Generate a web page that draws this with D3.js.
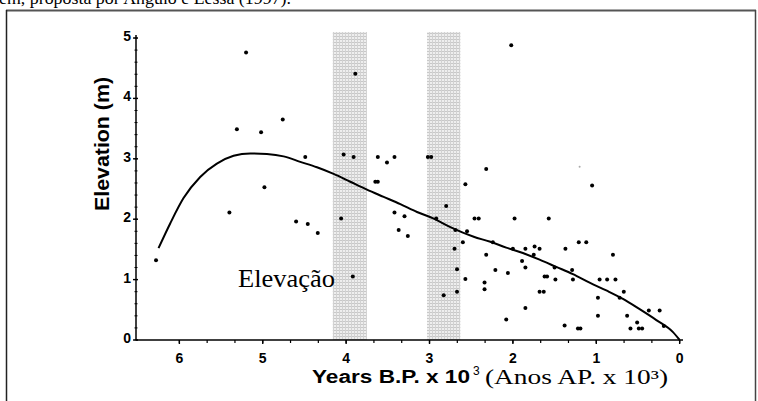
<!DOCTYPE html>
<html>
<head>
<meta charset="utf-8">
<script src="https://cdn.jsdelivr.net/npm/d3@7"></script>
<style>
  html, body { margin: 0; padding: 0; background: #fff; }
  svg { display: block; }
</style>
</head>
<body>
<svg id="chart" width="758" height="401"></svg>
<script>
// ---- data ----
const xTicks = [6, 5, 4, 3, 2, 1, 0];
const yTicks = [0, 1, 2, 3, 4, 5];
const bandStart = [4.16, 3.03];
const bandEnd = [3.75, 2.63];

const years = [5.20, 5.31, 5.02, 4.76, 4.49, 4.98, 5.40, 4.60, 4.46, 4.34, 6.28,
  4.03, 3.91, 3.89, 4.06, 3.92, 3.62, 3.42, 3.51, 3.65, 3.62, 3.42, 3.30, 3.37, 3.26,
  3.02, 2.98, 2.92, 2.80, 2.83, 2.02, 2.57, 2.32, 2.46, 2.41, 1.98, 1.57, 1.05,
  2.69, 2.55, 2.60, 2.70, 2.67, 2.57, 2.67, 2.24, 2.32, 2.21, 2.34, 2.34, 2.08, 2.06,
  2.00, 1.89, 1.85, 1.85, 1.85, 1.74, 1.68, 1.75, 1.68, 1.63, 1.62, 1.59, 1.49, 1.50,
  1.37, 1.38, 1.22, 1.19, 1.21, 1.12, 1.29, 1.28, 0.96, 0.87, 0.77, 0.80, 0.98, 0.98,
  0.67, 0.72, 0.63, 0.59, 0.51, 0.49, 0.45, 0.37, 0.24, 0.19];
const elevation = [4.76, 3.49, 3.44, 3.65, 3.03, 2.53, 2.11, 1.96, 1.92, 1.77, 1.32,
  3.07, 3.03, 4.41, 2.01, 1.05, 3.03, 3.03, 2.94, 2.62, 2.62, 2.11, 2.05, 1.82, 1.72,
  3.03, 3.03, 2.01, 2.22, 0.74, 4.88, 2.58, 2.83, 2.01, 2.01, 2.01, 2.01, 2.56,
  1.82, 1.80, 1.62, 1.51, 1.17, 1.01, 0.80, 1.62, 1.41, 1.16, 0.95, 0.84, 0.34, 1.11,
  1.51, 1.31, 1.51, 1.20, 0.53, 1.55, 1.51, 1.41, 0.80, 0.80, 1.05, 1.05, 1.00, 1.20,
  1.51, 0.24, 0.19, 0.19, 1.62, 1.62, 1.16, 1.00, 1.00, 1.00, 1.00, 1.41, 0.70, 0.40,
  0.80, 0.70, 0.40, 0.19, 0.29, 0.19, 0.19, 0.49, 0.49, 0.23];
const faintYears = [1.20];
const faintElevation = [2.87];

const curveYears = [6.25, 6.11, 5.95, 5.75, 5.55, 5.35, 5.15, 4.95, 4.75, 4.55, 4.35,
  4.15, 3.95, 3.75, 3.55, 3.35, 3.15, 2.95, 2.75, 2.47, 2.28, 2.08, 1.88, 1.68, 1.48,
  1.28, 1.08, 0.88, 0.68, 0.48, 0.28, 0.08, 0];
const curveElevation = [1.52, 1.93, 2.35, 2.70, 2.92, 3.05, 3.09, 3.08, 3.04, 2.95, 2.86,
  2.75, 2.62, 2.49, 2.37, 2.25, 2.12, 2.01, 1.87, 1.71, 1.63, 1.53, 1.44, 1.33, 1.21,
  1.09, 0.95, 0.82, 0.68, 0.51, 0.33, 0.13, 0];

const topText = "em, proposta por Angulo e Lessa (1997).";
const yTitle = "Elevation (m)";
const xTitleMain = "Years B.P. x 10";
const xTitleSup = "3";
const xTitlePt = "(Anos AP. x 10³)";
const annotation = "Elevação";

// ---- drawing ----
const svg = d3.select("#chart");
const x = d3.scaleLinear().domain([6.52, -0.04]).range([136, 683]);
const y = d3.scaleLinear().domain([0, 5.05]).range([340, 35]);

const defs = svg.append("defs");
const pat = defs.append("pattern").attr("id", "stip").attr("patternUnits", "userSpaceOnUse")
  .attr("width", 3).attr("height", 3);
pat.append("rect").attr("width", 3).attr("height", 3).attr("fill", "#eeeeee");
pat.append("rect").attr("width", 3).attr("height", 1).attr("fill", "#c8c8c8");
pat.append("rect").attr("width", 1).attr("height", 3).attr("fill", "#d2d2d2");

// top cropped text (cut off by the page edge, as in the source)
svg.append("text").attr("x", -1).attr("y", 4)
  .attr("font-family", "Liberation Serif, Times New Roman, serif").attr("font-size", 17)
  .attr("textLength", 292).attr("lengthAdjust", "spacingAndGlyphs")
  .text(topText);

// frame
svg.append("line").attr("x1", 6).attr("x2", 756).attr("y1", 10.5).attr("y2", 10.5)
  .attr("stroke", "#555").attr("stroke-width", 2);
svg.append("line").attr("x1", 6.5).attr("x2", 6.5).attr("y1", 10).attr("y2", 401)
  .attr("stroke", "#222").attr("stroke-width", 1.5);
svg.append("line").attr("x1", 755.5).attr("x2", 755.5).attr("y1", 10).attr("y2", 401)
  .attr("stroke", "#444").attr("stroke-width", 1.5);

// bands
svg.selectAll("rect.band").data(bandStart.map((s, i) => [s, bandEnd[i]]))
  .join("rect").attr("class", "band")
  .attr("x", d => x(d[0])).attr("width", d => x(d[1]) - x(d[0]))
  .attr("y", y(5.1)).attr("height", y(0) - y(5.1))
  .attr("fill", "url(#stip)");

// x axis
const gx = svg.append("g").attr("transform", `translate(0,${y(0)})`);
gx.append("line").attr("x1", 136).attr("x2", 683).attr("stroke", "#000").attr("stroke-width", 1.6);
const minorX = d3.range(0, 19).map(i => i / 3).filter(v => v <= 6.5);
gx.selectAll("line.mx").data(minorX).join("line").attr("class", "mx")
  .attr("x1", d => x(d)).attr("x2", d => x(d)).attr("y1", 0).attr("y2", 3)
  .attr("stroke", "#000").attr("stroke-width", 1.2);
gx.selectAll("line.Mx").data(xTicks).join("line").attr("class", "Mx")
  .attr("x1", d => x(d)).attr("x2", d => x(d)).attr("y1", 0).attr("y2", 4)
  .attr("stroke", "#000").attr("stroke-width", 1.4);
gx.selectAll("text").data(xTicks).join("text")
  .attr("x", d => x(d)).attr("y", 23).attr("text-anchor", "middle")
  .attr("font-family", "Liberation Sans, Arial, sans-serif").attr("font-weight", "bold")
  .attr("font-size", 14).text(d => d);

// y axis
const gy = svg.append("g").attr("transform", `translate(${x(6.52)},0)`);
gy.append("line").attr("y1", y(0)).attr("y2", y(5.05)).attr("stroke", "#000").attr("stroke-width", 1.5);
const minorY = d3.range(0, 26).map(i => i * 0.2);
gy.selectAll("line.my").data(minorY).join("line").attr("class", "my")
  .attr("x1", -1.5).attr("x2", 1.5).attr("y1", d => y(d)).attr("y2", d => y(d))
  .attr("stroke", "#000").attr("stroke-width", 1);
gy.selectAll("line.My").data(yTicks).join("line").attr("class", "My")
  .attr("x1", -3).attr("x2", 2).attr("y1", d => y(d)).attr("y2", d => y(d))
  .attr("stroke", "#000").attr("stroke-width", 1.4);
gy.selectAll("text").data(yTicks).join("text")
  .attr("x", -5).attr("y", d => y(d) - 2).attr("dy", "0.35em").attr("text-anchor", "end")
  .attr("font-family", "Liberation Sans, Arial, sans-serif").attr("font-weight", "bold")
  .attr("font-size", 14).text(d => d);

// y title
svg.append("text").attr("transform", "translate(109,144) rotate(-90)")
  .attr("text-anchor", "middle")
  .attr("font-family", "Liberation Sans, Arial, sans-serif").attr("font-weight", "bold")
  .attr("font-size", 20).attr("textLength", 134).attr("lengthAdjust", "spacingAndGlyphs")
  .text(yTitle);

// x title
svg.append("text").attr("x", 312).attr("y", 383)
  .attr("font-family", "Liberation Sans, Arial, sans-serif").attr("font-weight", "bold")
  .attr("font-size", 18).attr("textLength", 158).attr("lengthAdjust", "spacingAndGlyphs")
  .text(xTitleMain);
svg.append("text").attr("x", 473).attr("y", 375)
  .attr("font-family", "Liberation Sans, Arial, sans-serif")
  .attr("font-size", 12).text(xTitleSup);
svg.append("text").attr("x", 485).attr("y", 384)
  .attr("font-family", "Liberation Serif, Times New Roman, serif")
  .attr("font-size", 20).attr("textLength", 183).attr("lengthAdjust", "spacingAndGlyphs")
  .text(xTitlePt);

// annotation
svg.append("text").attr("x", 238).attr("y", 287)
  .attr("font-family", "Liberation Serif, Times New Roman, serif")
  .attr("font-size", 25).attr("textLength", 97).attr("lengthAdjust", "spacingAndGlyphs")
  .text(annotation);

// curve
const line = d3.line().x(d => x(d[0])).y(d => y(d[1])).curve(d3.curveMonotoneX);
svg.append("path").datum(curveYears.map((v, i) => [v, curveElevation[i]]))
  .attr("d", line).attr("fill", "none").attr("stroke", "#000").attr("stroke-width", 2);

// points
svg.selectAll("circle.pt").data(years.map((v, i) => [v, elevation[i]]))
  .join("circle").attr("class", "pt")
  .attr("cx", d => x(d[0])).attr("cy", d => y(d[1])).attr("r", 2).attr("fill", "#000");
svg.selectAll("circle.fpt").data(faintYears.map((v, i) => [v, faintElevation[i]]))
  .join("circle").attr("class", "fpt")
  .attr("cx", d => x(d[0])).attr("cy", d => y(d[1])).attr("r", 1).attr("fill", "#aaa");
</script>
</body>
</html>
